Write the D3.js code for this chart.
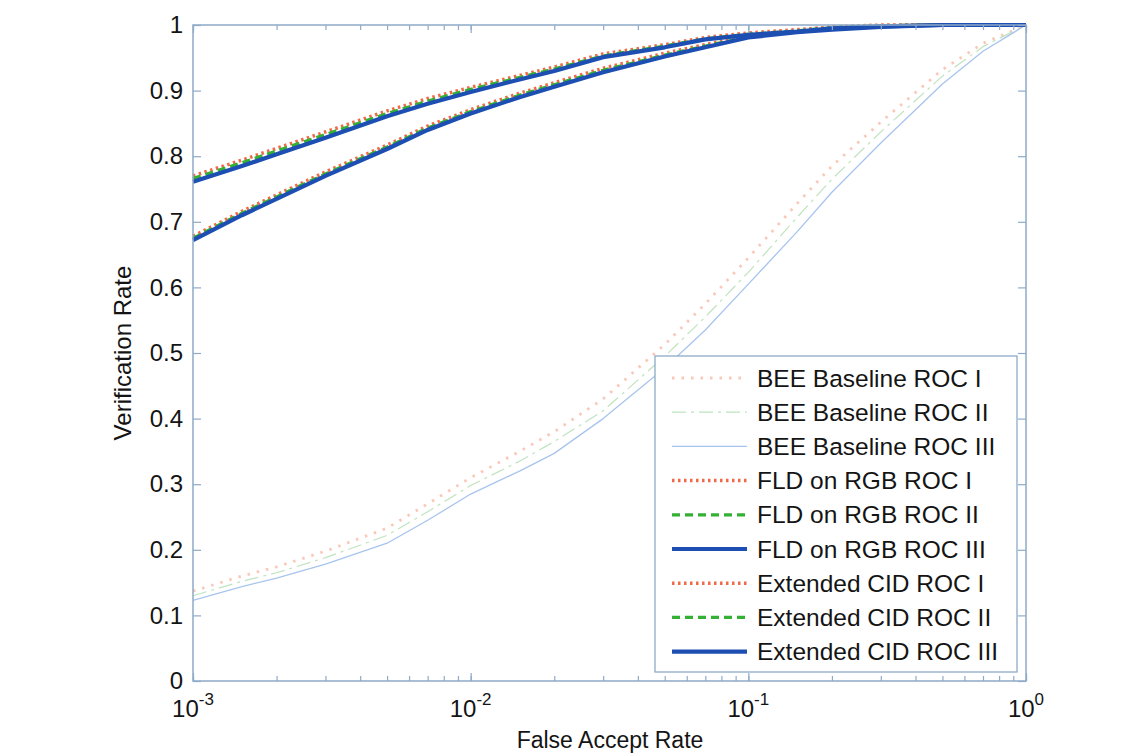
<!DOCTYPE html>
<html>
<head>
<meta charset="utf-8">
<script src="https://cdn.jsdelivr.net/npm/d3@7"></script>
<style>
  html, body { margin: 0; padding: 0; background: #ffffff; }
  svg { display: block; }
  text { font-family: "Liberation Sans", Arial, Helvetica, sans-serif; fill: #141414; }
</style>
</head>
<body>
<svg id="chart" width="1141" height="755"></svg>
<script>
// ---- data ----
const far = [0.001, 0.0015, 0.002, 0.003, 0.005, 0.007, 0.01, 0.015, 0.02, 0.03, 0.05, 0.07, 0.1, 0.15, 0.2, 0.3, 0.5, 0.7, 1];

const beeI   = [0.137, 0.160, 0.174, 0.198, 0.233, 0.270, 0.310, 0.350, 0.380, 0.430, 0.513, 0.575, 0.645, 0.728, 0.785, 0.852, 0.932, 0.972, 1.0];
const beeII  = [0.130, 0.152, 0.165, 0.188, 0.222, 0.258, 0.298, 0.335, 0.365, 0.412, 0.495, 0.555, 0.623, 0.707, 0.765, 0.837, 0.922, 0.967, 1.0];
const beeIII = [0.123, 0.144, 0.157, 0.178, 0.210, 0.245, 0.285, 0.320, 0.347, 0.400, 0.477, 0.535, 0.605, 0.685, 0.745, 0.820, 0.910, 0.960, 1.0];

const fldI   = [0.678, 0.716, 0.741, 0.776, 0.817, 0.846, 0.871, 0.896, 0.912, 0.934, 0.957, 0.970, 0.984, 0.991, 0.995, 0.999, 1, 1, 1];
const fldII  = [0.675, 0.713, 0.738, 0.773, 0.814, 0.843, 0.868, 0.893, 0.909, 0.931, 0.954, 0.968, 0.982, 0.990, 0.994, 0.998, 1, 1, 1];
const fldIII = [0.672, 0.710, 0.735, 0.770, 0.811, 0.840, 0.865, 0.890, 0.906, 0.928, 0.952, 0.966, 0.981, 0.989, 0.993, 0.997, 1, 1, 1];

const extI   = [0.770, 0.794, 0.812, 0.837, 0.869, 0.888, 0.905, 0.923, 0.936, 0.956, 0.970, 0.981, 0.988, 0.993, 0.997, 1, 1, 1, 1];
const extII  = [0.766, 0.790, 0.808, 0.833, 0.865, 0.884, 0.902, 0.920, 0.933, 0.953, 0.968, 0.979, 0.986, 0.991, 0.996, 0.999, 1, 1, 1];
const extIII = [0.761, 0.785, 0.803, 0.828, 0.861, 0.880, 0.898, 0.917, 0.930, 0.951, 0.966, 0.978, 0.985, 0.990, 0.995, 0.998, 1, 1, 1];

const seriesNames = [
  "BEE Baseline ROC I", "BEE Baseline ROC II", "BEE Baseline ROC III",
  "FLD on RGB ROC I", "FLD on RGB ROC II", "FLD on RGB ROC III",
  "Extended CID ROC I", "Extended CID ROC II", "Extended CID ROC III"
];
const seriesValues = [beeI, beeII, beeIII, fldI, fldII, fldIII, extI, extII, extIII];

const xMajorTicks = [0.001, 0.01, 0.1, 1];
const xTickExponents = ["-3", "-2", "-1", "0"];
const yTicks = [0, 0.1, 0.2, 0.3, 0.4, 0.5, 0.6, 0.7, 0.8, 0.9, 1];
const yTickLabels = ["0", "0.1", "0.2", "0.3", "0.4", "0.5", "0.6", "0.7", "0.8", "0.9", "1"];

// ---- styles ----
const styles = [
  { color: "#f9c8b8", width: 2.8, dash: "2.5,7" },
  { color: "#bfe3bf", width: 1.2, dash: "14,5,3,5" },
  { color: "#a8c4ee", width: 1.3, dash: null },
  { color: "#ee6a48", width: 3.5, dash: "2.5,3.5" },
  { color: "#34b034", width: 3.2, dash: "8,5" },
  { color: "#1d4fb3", width: 4.2, dash: null },
  { color: "#ee6a48", width: 3.5, dash: "2.5,3.5" },
  { color: "#34b034", width: 3.2, dash: "8,5" },
  { color: "#1d4fb3", width: 4.2, dash: null }
];

const axisColor = "#8eaac8";
const L = 193, R = 1026, T = 25, B = 681;

const svg = d3.select("#chart");
const x = d3.scaleLog().domain([1e-3, 1]).range([L, R]);
const y = d3.scaleLinear().domain([0, 1]).range([B, T]);

// clip
svg.append("defs").append("clipPath").attr("id", "clip")
  .append("rect").attr("x", L - 3).attr("y", T - 3).attr("width", R - L + 6).attr("height", B - T + 6);

// lines
const line = d3.line().x(d => x(d[0])).y(d => y(d[1]));
const plot = svg.append("g").attr("clip-path", "url(#clip)");
seriesValues.forEach((vals, i) => {
  const st = styles[i];
  plot.append("path")
    .datum(far.map((f, k) => [f, vals[k]]))
    .attr("d", line)
    .attr("fill", "none")
    .attr("stroke", st.color)
    .attr("stroke-width", st.width)
    .attr("stroke-dasharray", st.dash)
    .attr("stroke-linejoin", "round");
});

// axes
const minorTicks = x.ticks();
function styleAxis(g) {
  g.select(".domain").remove();
  g.selectAll("line").attr("stroke", axisColor).attr("stroke-width", 1.2);
}
svg.append("g").attr("transform", `translate(0,${B})`)
  .call(d3.axisBottom(x).tickValues(minorTicks).tickFormat("").tickSizeInner(-5).tickSizeOuter(0))
  .call(styleAxis);
svg.append("g").attr("transform", `translate(0,${B})`)
  .call(d3.axisBottom(x).tickValues(xMajorTicks).tickFormat("").tickSizeInner(-8).tickSizeOuter(0))
  .call(styleAxis);
svg.append("g").attr("transform", `translate(0,${T})`)
  .call(d3.axisTop(x).tickValues(minorTicks).tickFormat("").tickSizeInner(-5).tickSizeOuter(0))
  .call(styleAxis);
svg.append("g").attr("transform", `translate(0,${T})`)
  .call(d3.axisTop(x).tickValues(xMajorTicks).tickFormat("").tickSizeInner(-8).tickSizeOuter(0))
  .call(styleAxis);
const yl = svg.append("g").attr("transform", `translate(${L},0)`)
  .call(d3.axisLeft(y).tickValues(yTicks).tickFormat((d, i) => yTickLabels[i]).tickSizeInner(-8).tickSizeOuter(0).tickPadding(10))
  .call(styleAxis);
yl.selectAll("text").attr("font-size", 24).attr("fill", "#141414")
  .style("font-family", '"Liberation Sans", Arial, sans-serif');
svg.append("g").attr("transform", `translate(${R},0)`)
  .call(d3.axisRight(y).tickValues(yTicks).tickFormat("").tickSizeInner(-8).tickSizeOuter(0))
  .call(styleAxis);

// x tick labels with superscripts
const xl = svg.append("g");
xMajorTicks.forEach((t, i) => {
  const tx = xl.append("text").attr("x", x(t)).attr("y", 717).attr("text-anchor", "middle").attr("font-size", 24);
  tx.append("tspan").text("10");
  tx.append("tspan").attr("dy", -12).attr("font-size", 17).text(xTickExponents[i]);
});

// box
svg.append("rect").attr("x", L).attr("y", T).attr("width", R - L).attr("height", B - T)
  .attr("fill", "none").attr("stroke", axisColor).attr("stroke-width", 1.5);

// axis labels
svg.append("text").attr("x", 610).attr("y", 748).attr("text-anchor", "middle")
  .attr("font-size", 23).text("False Accept Rate");
svg.append("text").attr("transform", `translate(131,${(T + B) / 2}) rotate(-90)`)
  .attr("text-anchor", "middle").attr("font-size", 24).text("Verification Rate");

// legend
const lg = svg.append("g");
lg.append("rect").attr("x", 655).attr("y", 356).attr("width", 362).attr("height", 316)
  .attr("fill", "#ffffff").attr("stroke", axisColor).attr("stroke-width", 1.3);
seriesNames.forEach((name, i) => {
  const cy = 378 + i * 34.2;
  const st = styles[i];
  lg.append("line").attr("x1", 672).attr("x2", 747).attr("y1", cy).attr("y2", cy)
    .attr("stroke", st.color).attr("stroke-width", st.width).attr("stroke-dasharray", st.dash);
  lg.append("text").attr("x", 757).attr("y", cy + 8.5).attr("font-size", 24.5).text(name);
});
</script>
</body>
</html>
